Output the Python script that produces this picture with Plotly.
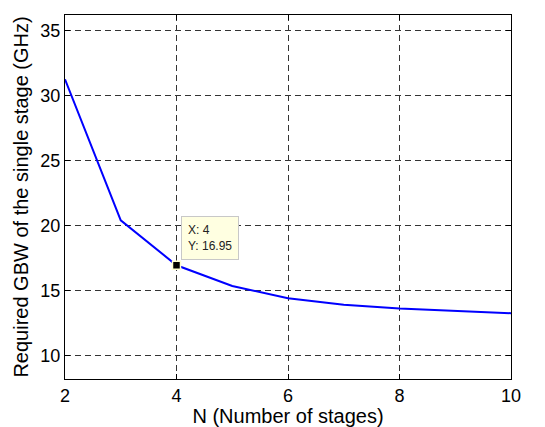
import plotly.graph_objects as go

N = [2, 3, 4, 5, 6, 7, 8, 9, 10]
GBW = [31.25, 20.4, 16.95, 15.36, 14.41, 13.92, 13.62, 13.42, 13.26]
tip_x = 4
tip_y = 16.95

fig = go.Figure()
fig.add_trace(go.Scatter(x=N, y=GBW, mode="lines",
                         line=dict(color="#0000FF", width=2), showlegend=False))
fig.add_trace(go.Scatter(x=[tip_x], y=[tip_y], mode="markers",
                         marker=dict(symbol="square", size=8, color="black",
                                     line=dict(color="#FFFFD0", width=1.5)),
                         showlegend=False))

fig.add_annotation(x=tip_x, y=tip_y, xref="x", yref="y", showarrow=False,
                   text=f"X: {tip_x}<br>Y: {tip_y}", align="left",
                   xanchor="left", yanchor="bottom", xshift=4, yshift=5,
                   bgcolor="#FFFFE1", bordercolor="#C8C8C8", borderwidth=1,
                   borderpad=6, font=dict(family="Liberation Sans, Arial", size=12, color="#222222"))

FONT = "Liberation Sans, Arial"
axis_common = dict(showline=True, linecolor="black", linewidth=1, mirror="allticks",
                   ticks="inside", ticklen=5, tickcolor="black",
                   showgrid=True, gridcolor="#333333", gridwidth=1, griddash="6px,4px",
                   zeroline=False, automargin=False,
                   tickfont=dict(family=FONT, size=18, color="black"))

fig.update_xaxes(range=[2, 10], tickvals=[2, 4, 6, 8, 10],
                 title=dict(text="N (Number of stages)", standoff=2,
                            font=dict(family=FONT, size=20, color="black")),
                 **axis_common)
fig.update_yaxes(range=[8.2, 36.2], tickvals=[10, 15, 20, 25, 30, 35],
                 title=dict(text="Required GBW of the single stage (GHz)", standoff=6,
                            font=dict(family=FONT, size=20, color="black")),
                 **axis_common)

fig.update_layout(width=545, height=427, margin=dict(l=65, r=34, t=15, b=48),
                  plot_bgcolor="white", paper_bgcolor="white")

fig.write_html("out.html")
